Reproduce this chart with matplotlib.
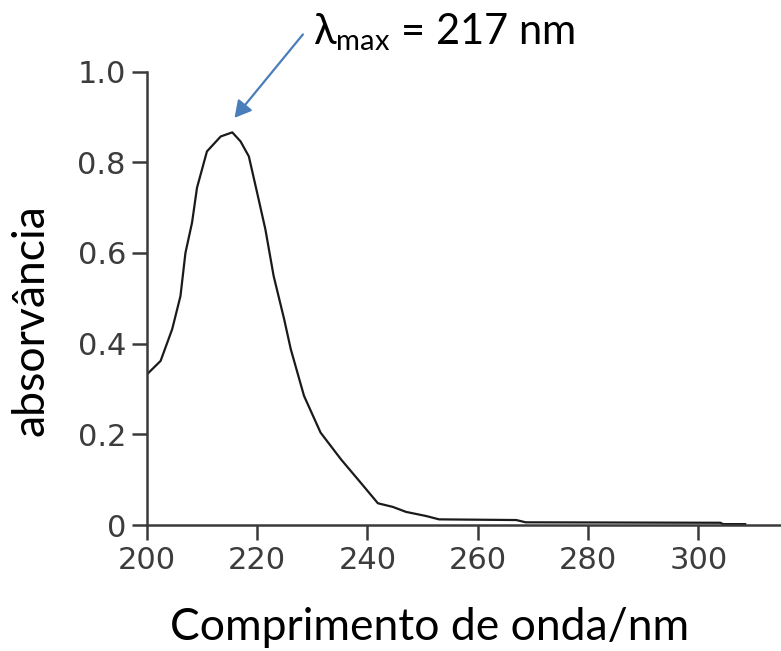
import matplotlib
matplotlib.use("Agg")
import matplotlib.pyplot as plt

# UV spectrum
wavelength = [200, 202.5, 204.6, 206.1, 207.0, 208.2, 209.1, 210.9, 213.4, 215.5,
              217.0, 218.5, 220.0, 221.5, 223.0, 224.9, 226.1, 228.5, 231.5, 235.2,
              238.6, 241.9, 244.6, 247.0, 250.6, 253.0, 267.0, 268.7, 304.0, 304.5, 308.5]
absorbance = [0.332, 0.362, 0.432, 0.505, 0.600, 0.667, 0.744, 0.824, 0.857, 0.866,
              0.846, 0.813, 0.733, 0.652, 0.549, 0.454, 0.388, 0.285, 0.204, 0.145,
              0.096, 0.048, 0.040, 0.029, 0.020, 0.0125, 0.011, 0.006, 0.005, 0.002, 0.002]

x_ticks = [200, 220, 240, 260, 280, 300]
y_ticks = [0, 0.2, 0.4, 0.6, 0.8, 1.0]
y_ticklabels = ["0", "0.2", "0.4", "0.6", "0.8", "1.0"]

peak_x, peak_y = 215.9, 0.898   # arrow tip
label_x, label_y = 228.3, 1.082  # arrow tail

LABEL_FONT = "Lato"
TICK_GRAY = "#3a3a3a"

fig = plt.figure(figsize=(7.81, 6.51), dpi=100)
ax = fig.add_axes([0.188, 0.1935, 0.812, 0.6965])

ax.plot(wavelength, absorbance, color="#1a1a1a", lw=1.6)

ax.set_xlim(200, 315)
ax.set_ylim(0, 1.0)
ax.spines["top"].set_visible(False)
ax.spines["right"].set_visible(False)
for s in ("left", "bottom"):
    ax.spines[s].set_color(TICK_GRAY)
    ax.spines[s].set_linewidth(1.8)

ax.set_xticks(x_ticks)
ax.set_yticks(y_ticks)
ax.set_yticklabels(y_ticklabels)
ax.tick_params(axis="both", direction="out", length=11, width=1.8, color=TICK_GRAY,
               labelcolor="#3c3c3c", labelsize=22, pad=4)
for t in ax.get_xticklabels() + ax.get_yticklabels():
    t.set_family("DejaVu Sans")

# axis titles sit where the reference has them (not axis-centred)
fig.text(430 / 781, 1 - 640 / 651, "Comprimento de onda/nm", fontsize=32,
         family=LABEL_FONT, ha="center", va="baseline")
fig.text(31 / 781, 1 - 320 / 651, "absorvância", fontsize=32, family=LABEL_FONT,
         rotation=90, ha="center", va="center")

ax.annotate("", xy=(peak_x, peak_y), xytext=(label_x, label_y),
            arrowprops=dict(arrowstyle="-|>,head_length=1.0,head_width=0.55",
                            color="#4a7ebb", lw=1.6, shrinkA=0, shrinkB=0),
            annotation_clip=False)
ax.text(230.1, 1.06, r"λ$_{\mathregular{max}}$ = 217 nm", fontsize=30, family=LABEL_FONT,
        ha="left", va="baseline", clip_on=False)

fig.savefig("out.png", dpi=100)
